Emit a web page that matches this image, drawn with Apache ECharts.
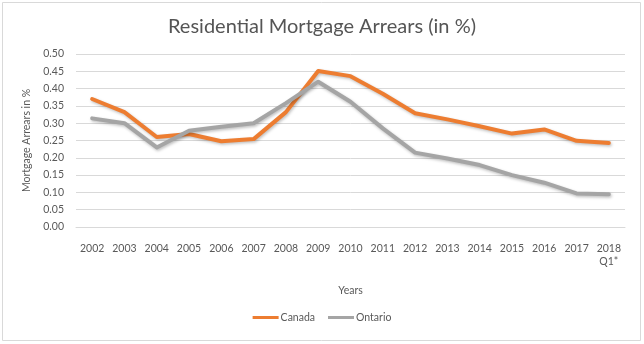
<!DOCTYPE html>
<html>
<head>
<meta charset="utf-8">
<script src="https://cdn.jsdelivr.net/npm/echarts@6/dist/echarts.min.js"></script>
<style>
  html, body { margin: 0; padding: 0; background: #fff; }
  #chart { width: 644px; height: 344px; }
</style>
</head>
<body>
<div id="chart"></div>
<script>
// Residential mortgage arrears, Canada vs Ontario (percent of mortgages)
const years = ['2002', '2003', '2004', '2005', '2006', '2007', '2008', '2009', '2010',
  '2011', '2012', '2013', '2014', '2015', '2016', '2017', '2018\nQ1*'];
const canada = [0.37, 0.332, 0.26, 0.269, 0.248, 0.254, 0.332, 0.451, 0.436,
  0.385, 0.329, 0.311, 0.291, 0.27, 0.282, 0.249, 0.243];
const ontario = [0.314, 0.30, 0.23, 0.278, 0.29, 0.30, 0.358, 0.42, 0.362,
  0.285, 0.215, 0.198, 0.179, 0.15, 0.128, 0.097, 0.095];
const yTicks = { min: 0, max: 0.5, interval: 0.05 };

const FONT = 'Lato, "Open Sans", sans-serif';
const TEXT = '#595959';

const chart = echarts.init(document.getElementById('chart'), null, { renderer: 'canvas' });

function lineSeries(name, data, color) {
  return {
    name: name,
    type: 'line',
    data: data,
    symbol: 'none',
    smooth: false,
    lineStyle: {
      color: color,
      width: 4,
      cap: 'round',
      join: 'round',
      shadowColor: 'rgba(0,0,0,0.25)',
      shadowBlur: 3,
      shadowOffsetX: 1,
      shadowOffsetY: 1.5
    },
    itemStyle: { color: color }
  };
}

chart.setOption({
  backgroundColor: '#fff',
  animation: false,
  textStyle: { fontFamily: FONT },
  graphic: [{
    type: 'rect',
    shape: { x: 2.5, y: 2.5, width: 638, height: 338 },
    style: { fill: 'none', stroke: '#D9D9D9', lineWidth: 1 },
    silent: true
  }],
  title: {
    text: 'Residential Mortgage Arrears (in %)',
    left: 'center',
    top: 12,
    textStyle: { fontFamily: FONT, fontSize: 20, fontWeight: 'normal', color: '#555555' }
  },
  legend: {
    bottom: 16,
    left: 'center',
    itemWidth: 26,
    itemHeight: 3,
    itemGap: 13,
    icon: 'rect',
    textStyle: { fontFamily: FONT, fontSize: 10.5, color: TEXT, padding: [0, 0, 0, -3] },
    data: ['Canada', 'Ontario']
  },
  grid: { left: 76, right: 19, top: 54, bottom: 117, containLabel: false },
  xAxis: {
    type: 'category',
    data: years,
    boundaryGap: true,
    name: 'Years',
    nameLocation: 'middle',
    nameGap: 58,
    nameTextStyle: { fontFamily: FONT, fontSize: 10.5, color: TEXT },
    axisLine: { show: true, lineStyle: { color: '#D9D9D9' } },
    axisTick: { show: false },
    axisLabel: { color: TEXT, fontSize: 10.5, fontFamily: FONT, margin: 15, lineHeight: 13, interval: 0 }
  },
  yAxis: {
    type: 'value',
    min: yTicks.min,
    max: yTicks.max,
    interval: yTicks.interval,
    name: 'Mortgage Arrears in %',
    nameLocation: 'middle',
    nameRotate: 90,
    nameGap: 43,
    nameTextStyle: { fontFamily: FONT, fontSize: 10.5, color: TEXT },
    axisLine: { show: false },
    axisTick: { show: false },
    axisLabel: { color: TEXT, fontSize: 10.5, fontFamily: FONT, margin: 12,
      formatter: v => v.toFixed(2) },
    splitLine: { lineStyle: { color: '#D9D9D9', width: 1 } }
  },
  series: [
    lineSeries('Canada', canada, '#ED7D31'),
    lineSeries('Ontario', ontario, '#A5A5A5')
  ]
});
</script>
</body>
</html>
